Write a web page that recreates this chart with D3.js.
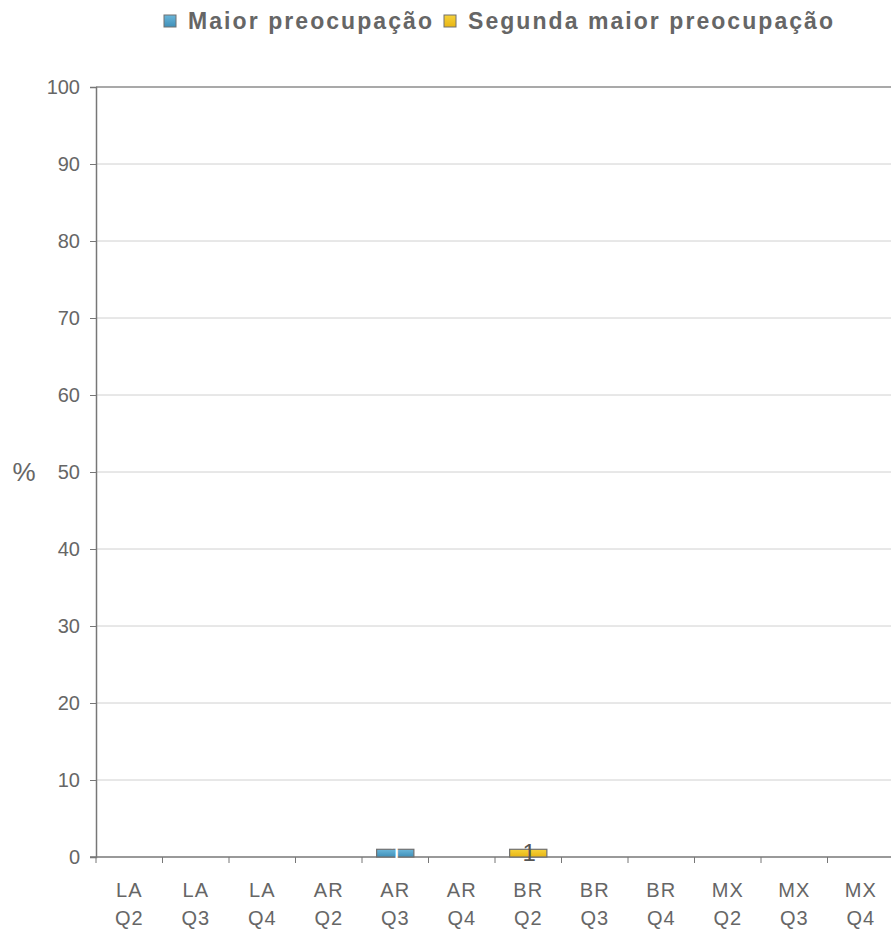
<!DOCTYPE html>
<html><head><meta charset="utf-8">
<script src="https://cdn.jsdelivr.net/npm/d3@7"></script>
<style>body{margin:0;background:#fff;}svg{display:block;font-family:"Liberation Sans",Arial,sans-serif;}</style>
</head><body><svg id="c" width="891" height="929"></svg>
<script>
const categories = [["LA","Q2"],["LA","Q3"],["LA","Q4"],["AR","Q2"],["AR","Q3"],["AR","Q4"],["BR","Q2"],["BR","Q3"],["BR","Q4"],["MX","Q2"],["MX","Q3"],["MX","Q4"]];
const seriesNames = ["Maior preocupação","Segunda maior preocupação"];
const maior   = [0,0,0,0,1,0,0,0,0,0,0,0];
const segunda = [0,0,0,0,0,0,1,0,0,0,0,0];
const yTicks = [0,10,20,30,40,50,60,70,80,90,100];

const svg = d3.select("#c");
const m = {l:96, r:-3, t:87, b:72};
const W = 891, H = 929;
const x = d3.scaleBand().domain(categories.map((d,i)=>i)).range([m.l, W - m.r]).paddingInner(0.44).paddingOuter(0.22);
const y = d3.scaleLinear().domain([0,100]).range([H - m.b, m.t]);
const txt = "#666666";

const defs = svg.append("defs");
const gb = defs.append("linearGradient").attr("id","gBlue").attr("x1","0").attr("x2","0").attr("y1","0").attr("y2","1");
gb.append("stop").attr("offset","0").attr("stop-color","#6ab6da");
gb.append("stop").attr("offset","1").attr("stop-color","#3f8fb8");
const gy = defs.append("linearGradient").attr("id","gYel").attr("x1","0").attr("x2","0").attr("y1","0").attr("y2","1");
gy.append("stop").attr("offset","0").attr("stop-color","#f6d23a");
gy.append("stop").attr("offset","1").attr("stop-color","#e8b514");

// gridlines
svg.append("g").selectAll("line").data(yTicks.filter(t=>t>0)).join("line")
  .attr("x1", m.l).attr("x2", W).attr("y1", d=>y(d)).attr("y2", d=>y(d))
  .attr("stroke", d=> d===100 ? "#8c8c8c" : "#d0d0d0").attr("stroke-width", d=> d===100?1.5:1);

// y axis
const ya = svg.append("g").attr("transform",`translate(${m.l},0)`)
  .call(d3.axisLeft(y).tickValues(yTicks).tickSize(6).tickPadding(10));
ya.select(".domain").attr("stroke","#777").attr("stroke-width",1.5);
ya.selectAll(".tick line").attr("stroke","#777");
ya.selectAll("text").attr("fill",txt).attr("font-size","20px").attr("font-family","Liberation Sans, Arial, sans-serif");

// x axis
const step = x.step();
const xa = svg.append("g").attr("transform",`translate(0,${y(0)})`);
xa.append("line").attr("x1",m.l-6).attr("x2",W).attr("y1",0).attr("y2",0).attr("stroke","#777").attr("stroke-width",1.5);
xa.selectAll("line.tk").data(d3.range(categories.length)).join("line").attr("class","tk")
  .attr("x1", i => x(i) + x.bandwidth()/2 - step/2).attr("x2", i => x(i) + x.bandwidth()/2 - step/2)
  .attr("y1",0).attr("y2",6).attr("stroke","#777");
const lbl = xa.selectAll("text").data(categories).join("text")
  .attr("text-anchor","middle").attr("fill",txt).attr("font-size","20px").attr("letter-spacing","1px")
  .attr("transform",(d,i)=>`translate(${x(i)+x.bandwidth()/2},0)`);
lbl.append("tspan").attr("x",0).attr("y",40).text(d=>d[0]);
lbl.append("tspan").attr("x",0).attr("y",68).text(d=>d[1]);

// stacked bars
const rows = categories.map((c,i)=>({i, a:maior[i], b:segunda[i]}));
const stack = d3.stack().keys(["a","b"])(rows);
const fills = ["url(#gBlue)","url(#gYel)"];
stack.forEach((s,k)=>{
  svg.append("g").selectAll("rect").data(s.filter(d=>d[1]-d[0]>0)).join("rect")
    .attr("x", d=>x(d.data.i)).attr("width", x.bandwidth())
    .attr("y", d=>y(d[1])).attr("height", d=>y(d[0])-y(d[1]))
    .attr("fill", fills[k]).attr("stroke", "#707070").attr("stroke-width",1.2);
});
// data labels
const labColors = ["#ffffff","#555555"];
stack.forEach((s,k)=>{
  svg.append("g").selectAll("text").data(s.filter(d=>d[1]-d[0]>0)).join("text")
    .attr("x", d=>x(d.data.i)+x.bandwidth()/2+1).attr("y", d=>y((d[0]+d[1])/2)+8)
    .attr("text-anchor","middle").attr("font-size","24px")
    .attr("fill", labColors[k]).text(d=>d[1]-d[0]);
});

// y title
svg.append("text").attr("x",24).attr("y",481).attr("text-anchor","middle").attr("font-size","26px").attr("fill",txt).text("%");

// legend
const leg = svg.append("g");
const legX = [164, 444];
const legW = [244, 365];
seriesNames.forEach((n,k)=>{
  leg.append("rect").attr("x",legX[k]).attr("y",15).attr("width",12).attr("height",12)
    .attr("fill",fills[k]).attr("stroke","#707070");
  leg.append("text").attr("x",legX[k]+24).attr("y",29).attr("font-size","23px").attr("font-weight","bold")
    .attr("fill",txt).attr("textLength",legW[k]).attr("lengthAdjust","spacing").text(n);
});
</script></body></html>
